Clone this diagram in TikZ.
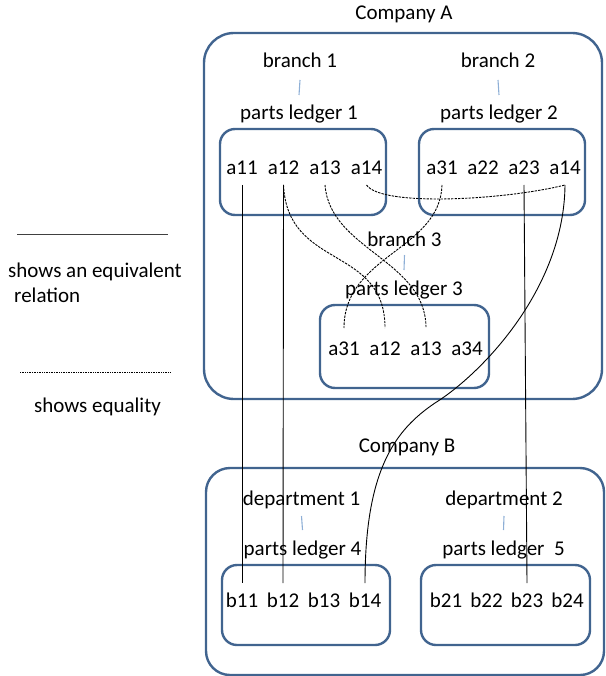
\documentclass[tikz,border=0pt]{standalone}
\usepackage{fontspec}
\setmainfont{Carlito}
\definecolor{boxblue}{HTML}{41648F}
\definecolor{tieblue}{HTML}{8EAFD6}
\tikzset{
  lbl/.style={font=\fontsize{21}{25}\selectfont, inner sep=0pt, anchor=base},
  ledger/.style={draw=boxblue, line width=2.4pt, rounded corners=15pt},
  company/.style={draw=boxblue, line width=2.4pt},
  tie/.style={draw=tieblue, line width=1.1pt},
  equiv/.style={draw=black, line width=0.9pt},
  same/.style={draw=black, line width=0.9pt, dash pattern=on 2.4pt off 1.1pt},
  sample/.style={draw=black, line width=0.6pt, dash pattern=on 1pt off 0.7pt},
}

\begin{document}
\begin{tikzpicture}[x=1pt,y=-1pt]
  \useasboundingbox (0,0) rectangle (605,676);
  % company boxes
  \node[company, rounded corners=30pt, minimum width=398pt, minimum height=366pt] (compA) at (403,216) {};
  \node[company, rounded corners=24pt, minimum width=398pt, minimum height=207pt] (compB) at (405,571.5) {};
  % ledger boxes
  \node[ledger, minimum width=166pt, minimum height=86pt] (box1) at (303,172) {};
  \node[ledger, minimum width=166pt, minimum height=86pt] (box2) at (502,172) {};
  \node[ledger, minimum width=169pt, minimum height=83pt] (box3) at (404.5,346.5) {};
  \node[ledger, minimum width=168pt, minimum height=80pt] (box4) at (306,605) {};
  \node[ledger, minimum width=169pt, minimum height=80pt] (box5) at (505.5,605) {};

  \node[lbl] (compAl) at (404,20) {Company A};
  \node[lbl] (br1) at (300,68) {branch 1};
  \node[lbl] (br2) at (498,68) {branch 2};
  \node[lbl] (pl1) at (299,120) {parts ledger 1};
  \node[lbl] (pl2) at (499,120) {parts ledger 2};
  \node[lbl] (br3) at (404.5,246) {branch 3};
  \node[lbl] (pl3) at (404,295) {parts ledger 3};
  \node[lbl] (compBl) at (407,452) {Company B};
  \node[lbl] (dep1) at (301.5,505) {department 1};
  \node[lbl] (dep2) at (504,505) {department 2};
  \node[lbl] (pl4) at (302.5,555) {parts ledger 4};
  \node[lbl] (pl5) at (503.5,555) {parts ledger\ \ 5};
  \draw[tie] ([yshift=-12pt]br1.base) -- ([yshift=25pt]pl1.base);
  \draw[tie] ([yshift=-12pt]br2.base) -- ([yshift=25pt]pl2.base);
  \draw[tie] ([yshift=-9pt]br3.base) -- ([yshift=25pt]pl3.base);
  \draw[tie] ([yshift=-11pt]dep1.base) -- ([yshift=25pt]pl4.base);
  \draw[tie] ([yshift=-11pt]dep2.base) -- ([yshift=25pt]pl5.base);

  % ledger entries
  \foreach \t [count=\i] in {a11,a12,a13,a14}
    \node[lbl] (l1-\i) at ({200.5+41.5*\i},175) {\t};
  \foreach \t [count=\i] in {a31,a22,a23,a14}
    \node[lbl] (l2-\i) at ({401+41*\i},175) {\t};
  \foreach \t [count=\i] in {a31,a12,a13,a34}
    \node[lbl] (l3-\i) at ({303+41*\i},355) {\t};
  \foreach \t [count=\i] in {b11,b12,b13,b14}
    \node[lbl] (l4-\i) at ({201+41*\i},607) {\t};
  \foreach \t [count=\i] in {b21,b22,b23,b24}
    \node[lbl] (l5-\i) at ({405.5+40.5*\i},607) {\t};

  % equivalent relations
  \draw[equiv] ([yshift=-10pt]l1-1.base) -- ([yshift=24pt]l4-1.base);
  \draw[equiv] ([yshift=-10pt]l1-2.base) -- ([yshift=24pt]l4-2.base);
  \draw[equiv] ([yshift=-10pt]l2-3.base) -- ([yshift=24pt]l5-3.base);
  \draw[equiv] ([yshift=-10pt]l2-4.base) .. controls +(-1,105) and +(45,-28) .. (435,403)
    .. controls +(-40,27) and +(0,-113) .. ([yshift=24pt]l4-4.base);
  % equalities
  \draw[same] ([yshift=-10pt]l1-4.base) .. controls +(15,22) and +(-60,15) .. ([yshift=-10pt]l2-4.base);
  \draw[same] ([yshift=-10pt]l1-2.base) .. controls +(4,85) and +(0,-83) .. ([yshift=27pt]l3-2.base);
  \draw[same] ([yshift=-10pt]l1-3.base) .. controls +(5,65) and +(0,-68) .. ([yshift=27pt]l3-3.base);
  \draw[same] ([yshift=-10pt]l2-1.base) .. controls +(-2,65) and +(0,-73) .. ([yshift=27pt]l3-1.base);

  % legend
  \draw[equiv, draw=black!75] (17,234) -- (168,234);
  \node[lbl, anchor=base west] (eqvtxt) at (8,277) {shows an equivalent};
  \node[lbl, anchor=base west] (reltxt) at (14,302) {relation};
  \draw[sample] (20,372) -- (170,372);
  \node[lbl] (sametxt) at (97.5,412) {shows equality};
\end{tikzpicture}
\end{document}
